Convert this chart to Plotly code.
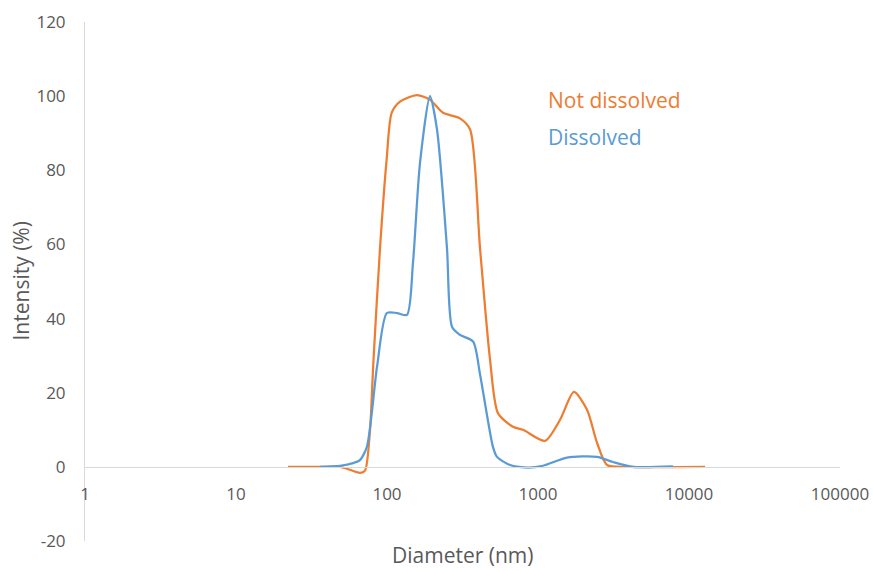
import plotly.graph_objects as go

# Size distribution by intensity (DLS), diameter in nm on a log scale
not_dissolved_d = [22.1, 36, 48.9, 54.3, 66.2, 71.5, 77.2, 81.2, 89.9, 99.5, 107.4, 122,
                   158, 193, 235, 304, 355, 413, 481, 543, 683, 796, 1112, 1400, 1730,
                   2112, 2461, 2867, 4064, 12760]
not_dissolved_i = [0, 0, 0, -0.5, -1.6, -1, 10, 28, 59, 83, 95.5, 98.5,
                   100.3, 99, 95.5, 94, 91, 59, 29, 14.5, 10.8, 10, 7, 12.7, 20.2,
                   15.4, 6.5, 0.5, 0, 0]

dissolved_d = [36, 48.9, 59.6, 66.2, 73.7, 85.9, 99.8, 116.5, 135.6, 148.6, 165.4, 192.6,
               214.4, 249.6, 269.4, 304, 371.6, 413, 503, 535, 653, 859, 1079, 1556,
               2461, 3140, 4258, 7830]
dissolved_i = [0, 0.3, 1, 1.8, 5.5, 27, 41.5, 41.5, 41, 55, 82, 100,
               91, 59, 37.8, 35.6, 33.8, 25, 5.4, 2.7, 0.5, -0.2, 0.3, 2.5,
               2.7, 1.3, 0, 0.1]

x_ticks = [1, 10, 100, 1000, 10000, 100000]
x_tick_text = ["1", "10", "100", "1000", "10000", "100000"]
y_ticks = [-20, 0, 20, 40, 60, 80, 100, 120]
y_tick_text = ["-20", "0", "20", "40", "60", "80", "100", "120"]

ORANGE = "#ED7D31"
BLUE = "#5B9BD5"
AXIS = "#D9D9D9"
TEXT = "#595959"
FONT = "Open Sans, sans-serif"

W, H = 873, 571
L, R, T, B = 85, 33, 22, 30
pw, ph = W - L - R, H - T - B

fig = go.Figure()
fig.add_trace(go.Scatter(x=not_dissolved_d, y=not_dissolved_i, mode="lines",
                         name="Not dissolved",
                         line=dict(color=ORANGE, width=2.25, shape="spline", smoothing=0.7)))
fig.add_trace(go.Scatter(x=dissolved_d, y=dissolved_i, mode="lines",
                         name="Dissolved",
                         line=dict(color=BLUE, width=2.25, shape="spline", smoothing=0.7)))

fig.update_layout(
    width=W, height=H,
    margin=dict(l=L, r=R, t=T, b=B),
    paper_bgcolor="white", plot_bgcolor="white",
    showlegend=False,
    font=dict(family=FONT, color=TEXT, size=17),
    xaxis=dict(type="log", range=[0, 5], anchor="free", position=20 / 140,
               showline=True, linecolor=AXIS, linewidth=1, automargin=False,
               showgrid=False, zeroline=False, ticks="",
               tickvals=x_ticks, ticktext=x_tick_text, ticklabelstandoff=12,
               tickfont=dict(size=17, color=TEXT)),
    yaxis=dict(range=[-20, 120], showline=True, linecolor=AXIS, linewidth=1,
               automargin=False, showgrid=False, zeroline=False, ticks="",
               tickvals=y_ticks, ticktext=y_tick_text, ticklabelstandoff=15,
               tickfont=dict(size=17, color=TEXT)),
    annotations=[
        dict(text="Not dissolved", x=3.053, y=99, xref="x", yref="y",
             xanchor="left", yanchor="middle", showarrow=False,
             font=dict(size=21, color=ORANGE, family=FONT)),
        dict(text="Dissolved", x=3.053, y=89, xref="x", yref="y",
             xanchor="left", yanchor="middle", showarrow=False,
             font=dict(size=21, color=BLUE, family=FONT)),
        dict(text="Intensity (%)", x=(20 - L) / pw, y=1 - (281.5 - T) / ph,
             xref="paper", yref="paper",
             showarrow=False, textangle=-90, xanchor="center", yanchor="middle",
             font=dict(size=21, color=TEXT, family=FONT)),
        dict(text="Diameter (nm)", x=0.5, y=1 - (555 - T) / ph,
             xref="paper", yref="paper",
             showarrow=False, xanchor="center", yanchor="middle",
             font=dict(size=21, color=TEXT, family=FONT)),
    ],
)

fig.write_html("out.html")
